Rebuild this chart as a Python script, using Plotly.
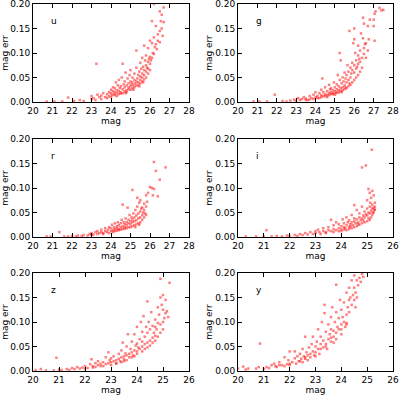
import plotly.graph_objects as go

# ---------------- data ----------------
u_pts = [(20.7,0.001),(21.1,0.001),(21.5,0.001),(21.8,0.009),(22.1,0.002),(22.4,0.004),(22.6,0.002),
(23.0,0.006),(23.0,0.012),(23.1,0.008),(23.2,0.004),(23.3,0.015),(23.4,0.010),(23.5,0.013),(23.5,0.006),(23.6,0.018),(23.25,0.078),
(23.7,0.010),(23.8,0.016),(23.9,0.012),(23.9,0.020),(24.0,0.018),(24.0,0.025),(24.05,0.014),(24.1,0.022),(24.1,0.030),(24.15,0.016),(24.2,0.020),(24.2,0.028),(24.25,0.040),(24.3,0.018),(24.3,0.024),(24.35,0.034),(24.4,0.022),(24.4,0.045),(24.45,0.028),(24.5,0.020),(24.5,0.032),(24.55,0.050),(24.6,0.026),(24.6,0.078),(24.65,0.036),(24.7,0.030),(24.7,0.042),(24.75,0.060),(24.8,0.024),(24.8,0.034),(24.85,0.048),(24.9,0.030),(24.9,0.038),(24.95,0.055),(25.0,0.032),(25.0,0.042),(25.0,0.065),(25.05,0.036),(25.1,0.040),(25.1,0.050),(25.15,0.034),(25.2,0.045),(25.2,0.058),(25.25,0.038),(25.3,0.042),(25.3,0.105),(25.3,0.070),(25.35,0.048),(25.4,0.040),(25.4,0.055),(25.45,0.062),(25.5,0.045),(25.5,0.052),(25.5,0.080),(25.55,0.068),(25.6,0.050),(25.6,0.058),(25.6,0.090),(25.65,0.072),(25.7,0.055),(25.7,0.065),(25.7,0.115),(25.75,0.085),(25.8,0.062),(25.8,0.075),(25.8,0.095),(25.85,0.070),(25.9,0.068),(25.9,0.082),(25.9,0.110),(25.95,0.088),(26.0,0.078),(26.0,0.092),(26.0,0.125),(26.05,0.085),(26.1,0.090),(26.1,0.120),(26.1,0.165),(26.15,0.100),(26.2,0.098),(26.2,0.132),(26.2,0.200),(26.25,0.112),(26.3,0.118),(26.3,0.155),(26.35,0.108),(26.4,0.138),(26.4,0.125),(26.5,0.122),(26.5,0.185),(26.5,0.145),(26.55,0.165),(26.6,0.150),(26.6,0.178),(26.7,0.163),(26.7,0.193),(26.65,0.135),
(24.3,0.012),(24.0,0.010),(23.8,0.008),(24.6,0.018),(24.8,0.020),(25.0,0.025),(25.2,0.030),(25.4,0.035),(25.6,0.042),(25.8,0.050),(24.4,0.016),(24.7,0.022),(24.9,0.026),(25.1,0.028),(25.3,0.033),(25.5,0.038),(25.7,0.046),(25.9,0.058),(26.0,0.065),(24.2,0.014),(24.5,0.017),(25.15,0.025),(24.75,0.018),(25.45,0.032),(25.65,0.040)]

g_pts = [(20.8,0.001),(21.1,0.001),(21.5,0.001),(21.9,0.015),(22.3,0.002),(22.5,0.001),(22.7,0.003),(22.9,0.005),(23.0,0.002),(23.1,0.008),(23.2,0.004),(23.3,0.006),(23.4,0.010),(23.5,0.007),(23.6,0.004),(23.7,0.012),(23.8,0.008),(23.9,0.015),(24.0,0.010),(24.0,0.020),(24.1,0.012),(24.2,0.018),(24.2,0.008),(24.3,0.025),(24.3,0.014),(24.35,0.048),(24.4,0.012),(24.4,0.020),(24.5,0.016),(24.5,0.030),(24.6,0.022),(24.6,0.014),(24.7,0.018),(24.7,0.035),(24.75,0.026),(24.8,0.020),(24.8,0.028),(24.9,0.016),(24.9,0.024),(24.95,0.040),(25.0,0.022),(25.0,0.030),(25.05,0.018),(25.1,0.026),(25.1,0.036),(25.15,0.055),(25.2,0.024),(25.2,0.032),(25.25,0.045),(25.25,0.100),(25.3,0.028),(25.3,0.085),(25.35,0.038),(25.4,0.030),(25.4,0.050),(25.45,0.042),(25.5,0.034),(25.5,0.060),(25.55,0.048),(25.6,0.040),(25.6,0.055),(25.65,0.075),(25.7,0.045),(25.7,0.062),(25.75,0.145),(25.8,0.050),(25.8,0.070),(25.85,0.058),(25.9,0.065),(25.9,0.080),(25.95,0.120),(26.0,0.060),(26.0,0.075),(26.0,0.150),(26.0,0.128),(26.05,0.100),(26.1,0.068),(26.1,0.085),(26.15,0.072),(26.2,0.078),(26.2,0.095),(26.2,0.115),(26.25,0.088),(26.3,0.082),(26.3,0.105),(26.35,0.140),(26.4,0.090),(26.45,0.130),(26.45,0.172),(26.5,0.098),(26.5,0.110),(26.5,0.160),(26.6,0.120),(26.7,0.155),(26.75,0.128),(26.8,0.168),(27.0,0.155),(27.0,0.168),(27.05,0.125),(27.05,0.180),(27.1,0.185),(27.3,0.192),(27.4,0.187),(27.5,0.188),(26.55,0.118),(26.7,0.105),(26.6,0.090),
(24.5,0.012),(24.7,0.014),(24.9,0.018),(25.1,0.020),(25.3,0.022),(25.5,0.026),(25.7,0.032),(25.9,0.040),(26.1,0.050),(26.3,0.062),(24.6,0.010),(24.8,0.016),(25.0,0.015),(25.2,0.019),(25.4,0.024),(25.6,0.028),(25.8,0.035),(26.0,0.045),(26.2,0.055),(26.4,0.070),(24.3,0.010),(24.1,0.008),(23.9,0.006),(23.7,0.005),(23.5,0.004),(25.35,0.020),(25.55,0.030),(25.75,0.038)]

r_pts = [(20.7,0.001),(20.9,0.001),(21.35,0.010),(21.6,0.001),(21.8,0.001),(22.0,0.002),(22.2,0.001),(22.3,0.003),(22.5,0.002),(22.6,0.004),(22.8,0.003),(22.9,0.006),(23.0,0.004),(23.0,0.008),(23.1,0.005),(23.2,0.010),(23.3,0.006),(23.3,0.012),(23.4,0.008),(23.5,0.010),(23.5,0.015),(23.6,0.008),(23.7,0.012),(23.7,0.018),(23.8,0.010),(23.85,0.015),(23.9,0.020),(24.0,0.012),(24.0,0.018),(24.05,0.025),(24.1,0.014),(24.15,0.020),(24.2,0.016),(24.2,0.028),(24.3,0.018),(24.3,0.022),(24.35,0.030),(24.4,0.016),(24.4,0.024),(24.5,0.020),(24.5,0.028),(24.55,0.035),(24.6,0.022),(24.6,0.066),(24.65,0.030),(24.7,0.020),(24.7,0.026),(24.75,0.038),(24.8,0.024),(24.8,0.030),(24.85,0.060),(24.9,0.028),(24.9,0.035),(24.95,0.045),(25.0,0.026),(25.0,0.032),(25.05,0.040),(25.1,0.030),(25.1,0.036),(25.1,0.096),(25.15,0.048),(25.2,0.032),(25.2,0.040),(25.25,0.055),(25.3,0.034),(25.3,0.044),(25.35,0.080),(25.35,0.062),(25.4,0.038),(25.4,0.048),(25.45,0.070),(25.5,0.040),(25.5,0.052),(25.5,0.075),(25.55,0.058),(25.6,0.045),(25.6,0.060),(25.65,0.050),(25.7,0.055),(25.7,0.068),(25.75,0.048),(25.8,0.062),(25.8,0.085),(25.85,0.072),(25.9,0.090),(26.0,0.102),(26.1,0.100),(26.2,0.098),(26.15,0.085),(26.2,0.153),(26.3,0.135),(26.5,0.117),(26.8,0.142),(26.4,0.083),
(24.2,0.012),(24.4,0.014),(24.6,0.016),(24.8,0.018),(25.0,0.020),(25.2,0.024),(25.4,0.028),(25.6,0.035),(25.8,0.045),(24.1,0.010),(24.3,0.013),(24.5,0.015),(24.7,0.017),(24.9,0.020),(25.1,0.022),(25.3,0.026),(25.5,0.030),(25.7,0.040),(23.9,0.008),(23.6,0.006),(25.25,0.020),(25.45,0.025)]

i_pts = [(20.3,0.001),(20.7,0.001),(21.0,0.001),(21.1,0.014),(21.3,0.001),(21.5,0.002),(21.7,0.001),(21.9,0.003),(22.0,0.002),(22.2,0.004),(22.3,0.002),(22.4,0.006),(22.5,0.004),(22.6,0.008),(22.7,0.005),(22.8,0.010),(22.9,0.006),(23.0,0.012),(23.0,0.008),(23.1,0.015),(23.15,0.010),(23.2,0.006),(23.3,0.012),(23.3,0.018),(23.4,0.010),(23.5,0.014),(23.5,0.020),(23.6,0.012),(23.6,0.035),(23.7,0.016),(23.7,0.024),(23.8,0.014),(23.8,0.030),(23.9,0.018),(23.9,0.026),(24.0,0.016),(24.0,0.022),(24.05,0.036),(24.1,0.020),(24.1,0.028),(24.15,0.018),(24.2,0.024),(24.2,0.040),(24.25,0.030),(24.3,0.020),(24.3,0.034),(24.35,0.026),(24.4,0.030),(24.4,0.045),(24.45,0.024),(24.5,0.032),(24.5,0.038),(24.5,0.065),(24.55,0.028),(24.6,0.036),(24.6,0.055),(24.65,0.030),(24.7,0.040),(24.7,0.048),(24.75,0.034),(24.8,0.038),(24.8,0.062),(24.8,0.142),(24.85,0.044),(24.9,0.040),(24.9,0.052),(24.95,0.146),(24.95,0.046),(25.0,0.044),(25.0,0.058),(25.0,0.075),(25.05,0.050),(25.05,0.098),(25.1,0.048),(25.1,0.062),(25.1,0.090),(25.12,0.070),(25.15,0.054),(25.15,0.080),(25.18,0.178),(25.2,0.058),(25.2,0.066),(25.2,0.094),(25.22,0.050),(25.25,0.060),(25.25,0.085),(25.28,0.055),(25.3,0.062),(25.3,0.070),(25.3,0.056),
(23.9,0.012),(24.1,0.015),(24.3,0.016),(24.5,0.020),(24.7,0.025),(24.9,0.030),(25.1,0.035),(25.2,0.045),(24.0,0.012),(24.2,0.014),(24.4,0.018),(24.6,0.022),(24.8,0.028),(25.0,0.032),(25.15,0.040),(25.25,0.050),(24.35,0.022),(24.65,0.026),(24.85,0.034),(25.05,0.038),(23.4,0.008),(23.7,0.010)]

z_pts = [(20.1,0.002),(20.3,0.004),(20.5,0.001),(20.8,0.001),(20.9,0.027),(21.0,0.003),(21.1,0.002),(21.3,0.004),(21.4,0.002),(21.5,0.006),(21.6,0.004),(21.7,0.008),(21.8,0.005),(21.9,0.007),(22.0,0.004),(22.0,0.010),(22.1,0.006),(22.2,0.014),(22.25,0.024),(22.3,0.010),(22.4,0.016),(22.4,0.008),(22.5,0.012),(22.5,0.020),(22.6,0.015),(22.7,0.010),(22.7,0.018),(22.8,0.014),(22.8,0.028),(22.9,0.016),(22.9,0.038),(22.95,0.022),(23.0,0.018),(23.0,0.026),(23.1,0.020),(23.1,0.030),(23.2,0.022),(23.2,0.016),(23.3,0.025),(23.3,0.035),(23.35,0.020),(23.4,0.028),(23.4,0.042),(23.45,0.058),(23.5,0.030),(23.5,0.024),(23.55,0.036),(23.6,0.032),(23.6,0.050),(23.65,0.075),(23.7,0.035),(23.7,0.028),(23.75,0.045),(23.8,0.038),(23.8,0.060),(23.85,0.032),(23.9,0.042),(23.9,0.075),(23.95,0.052),(24.0,0.040),(24.0,0.056),(24.0,0.090),(24.05,0.048),(24.1,0.045),(24.1,0.065),(24.15,0.100),(24.2,0.050),(24.2,0.060),(24.2,0.080),(24.25,0.112),(24.3,0.055),(24.3,0.070),(24.35,0.090),(24.4,0.058),(24.4,0.078),(24.4,0.142),(24.45,0.100),(24.5,0.062),(24.5,0.085),(24.55,0.120),(24.6,0.068),(24.6,0.092),(24.65,0.078),(24.7,0.072),(24.7,0.105),(24.7,0.090),(24.75,0.085),(24.8,0.098),(24.8,0.130),(24.85,0.115),(24.9,0.095),(24.9,0.188),(24.9,0.150),(24.95,0.135),(25.0,0.100),(25.0,0.125),(25.0,0.155),(25.05,0.108),(25.1,0.118),(25.1,0.145),(25.15,0.122),(25.2,0.110),(25.25,0.180),
(23.0,0.012),(23.2,0.015),(23.4,0.018),(23.6,0.022),(23.8,0.028),(24.0,0.035),(24.2,0.040),(24.4,0.048),(24.6,0.058),(24.8,0.070),(25.0,0.085),(23.5,0.020),(23.9,0.030),(24.3,0.045),(24.5,0.052),(24.7,0.062),(24.9,0.078),(22.6,0.010),(22.3,0.007)]

y_pts = [(20.0,0.005),(20.2,0.009),(20.3,0.003),(20.4,0.005),(20.7,0.005),(20.8,0.008),(20.85,0.056),(21.0,0.004),(21.1,0.008),(21.2,0.006),(21.3,0.012),(21.4,0.015),(21.45,0.010),(21.5,0.008),(21.6,0.018),(21.7,0.012),(21.8,0.028),(21.8,0.010),(21.9,0.014),(21.95,0.022),(22.0,0.012),(22.0,0.040),(22.1,0.018),(22.2,0.026),(22.2,0.040),(22.25,0.015),(22.3,0.030),(22.35,0.020),(22.4,0.035),(22.45,0.025),(22.5,0.018),(22.5,0.045),(22.55,0.030),(22.6,0.070),(22.6,0.025),(22.65,0.038),(22.7,0.032),(22.75,0.048),(22.8,0.028),(22.85,0.055),(22.9,0.040),(22.9,0.070),(22.95,0.032),(23.0,0.050),(23.0,0.038),(23.05,0.060),(23.1,0.045),(23.1,0.085),(23.15,0.035),(23.2,0.055),(23.2,0.070),(23.25,0.100),(23.3,0.048),(23.3,0.062),(23.35,0.118),(23.35,0.135),(23.4,0.055),(23.4,0.080),(23.45,0.045),(23.5,0.065),(23.5,0.095),(23.55,0.075),(23.6,0.060),(23.6,0.085),(23.6,0.110),(23.65,0.130),(23.7,0.070),(23.7,0.082),(23.7,0.058),(23.75,0.100),(23.8,0.078),(23.8,0.120),(23.8,0.176),(23.85,0.090),(23.9,0.085),(23.9,0.108),(23.95,0.145),(24.0,0.095),(24.0,0.075),(24.0,0.125),(24.05,0.110),(24.1,0.100),(24.1,0.140),(24.15,0.090),(24.2,0.115),(24.2,0.160),(24.2,0.098),(24.25,0.130),(24.3,0.120),(24.3,0.170),(24.35,0.150),(24.4,0.135),(24.4,0.185),(24.45,0.155),(24.5,0.145),(24.5,0.170),(24.5,0.195),(24.55,0.160),(24.6,0.150),(24.6,0.185),(24.65,0.175),(24.7,0.190),(24.75,0.182),(24.8,0.198),(24.85,0.192),(24.3,0.145),(24.55,0.130),
(22.6,0.028),(22.7,0.022),(22.8,0.035),(23.0,0.030),(23.2,0.045),(23.4,0.050),(23.6,0.068),(23.8,0.065),(24.0,0.085),(24.2,0.095),(22.4,0.020),(22.0,0.015),(21.6,0.012)]

bands = ["u", "g", "r", "i", "z", "y"]
band_points = [u_pts, g_pts, r_pts, i_pts, z_pts, y_pts]
x_ranges = [(20, 28), (20, 28), (20, 28), (20, 26), (20, 26), (20, 26)]
y_range = (0, 0.2)
y_ticks = [0.00, 0.05, 0.10, 0.15, 0.20]

# ---------------- layout geometry ----------------
W, H = 400, 395
col_px = [(33, 189), (238, 393)]
row_px = [(4, 102), (139, 237), (273, 371)]

fig = go.Figure()
font = dict(family="DejaVu Sans", size=9, color="black")

for k, (band, pts) in enumerate(zip(bands, band_points)):
    r, c = divmod(k, 2)
    ax = "" if k == 0 else str(k + 1)
    xs = [p[0] for p in pts]
    ys = [p[1] for p in pts]
    fig.add_trace(go.Scatter(
        x=xs, y=ys, mode="markers", xaxis="x" + ax, yaxis="y" + ax,
        marker=dict(color="red", size=2.5, opacity=0.5, symbol="square", line=dict(width=0)),
        showlegend=False, hoverinfo="skip", cliponaxis=True))
    x0, x1 = col_px[c]
    t, b = row_px[r]
    lo, hi = x_ranges[k]
    common = dict(showline=True, linecolor="black", linewidth=1, mirror="ticks",
                  ticks="inside", ticklen=4, tickwidth=1, tickcolor="black",
                  showgrid=False, zeroline=False, tickfont=font, automargin=False,
                  ticklabeloverflow="allow")
    fig.layout["xaxis" + ax] = dict(
        domain=[x0 / W, x1 / W], range=[lo, hi], anchor="y" + ax,
        tickvals=list(range(lo, hi + 1)), ticktext=[str(v) for v in range(lo, hi + 1)],
        title=dict(text="mag", font=font, standoff=0), **common)
    fig.layout["yaxis" + ax] = dict(
        domain=[1 - b / H, 1 - t / H], range=list(y_range), anchor="x" + ax,
        tickvals=y_ticks, ticktext=["%.2f" % v for v in y_ticks],
        title=dict(text="mag err", font=font, standoff=1), **common)
    fig.add_annotation(text=band, x=0.1, y=0.83, xref="x" + ax + " domain",
                       yref="y" + ax + " domain", showarrow=False, xanchor="left",
                       yanchor="middle", font=dict(family="DejaVu Sans", size=9, color="black"))

fig.update_layout(width=W, height=H, margin=dict(l=0, r=0, t=0, b=0),
                  plot_bgcolor="white", paper_bgcolor="white", font=font)
fig.write_html("out.html", config={"displayModeBar": False},
               post_script="document.body.style.margin='0';document.body.style.overflow='hidden';")
